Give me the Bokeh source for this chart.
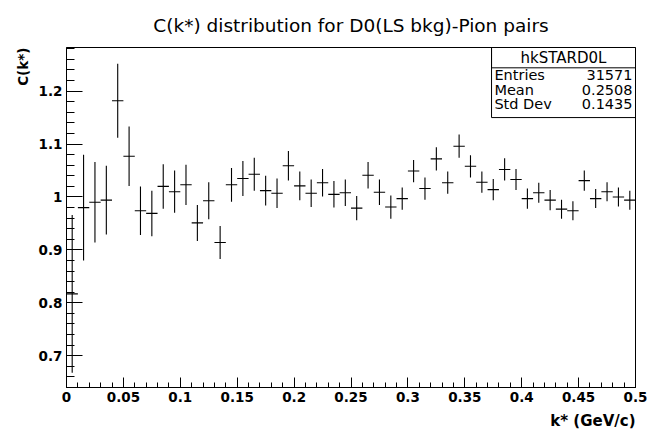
import numpy as np
from bokeh.plotting import figure
from bokeh.models import (Range1d, FixedTicker, CustomJSTickFormatter, Title,
                          BoxAnnotation, ColumnDataSource)
from bokeh.core.properties import value
from bokeh.embed import file_html
from bokeh.resources import INLINE

# Histogram hkSTARD0L: 50 bins of width 0.01 in k* from 0 to 0.5
bin_width = 0.01
bin_low = [round(i * bin_width, 3) for i in range(50)]
c_vals = [0.817, 0.980, 0.990, 0.994, 1.182, 1.077, 0.974, 0.969, 1.020, 1.010,
          1.023, 0.951, 0.993, 0.914, 1.023, 1.035, 1.043, 1.012, 1.007, 1.059,
          1.021, 1.007, 1.027, 1.005, 1.008, 0.979, 1.041, 1.009, 0.981, 0.997,
          1.049, 1.016, 1.072, 1.027, 1.096, 1.058, 1.028, 1.014, 1.052, 1.033,
          0.997, 1.008, 0.994, 0.977, 0.974, 1.031, 0.997, 1.010, 1.000, 0.994]
c_errs = [0.149, 0.100, 0.076, 0.065, 0.070, 0.056, 0.046, 0.043, 0.042, 0.040,
          0.038, 0.034, 0.035, 0.031, 0.032, 0.033, 0.031, 0.028, 0.028, 0.028,
          0.027, 0.026, 0.026, 0.025, 0.025, 0.023, 0.025, 0.024, 0.022, 0.021,
          0.021, 0.021, 0.022, 0.021, 0.022, 0.021, 0.020, 0.020, 0.021, 0.020,
          0.019, 0.019, 0.019, 0.018, 0.018, 0.019, 0.018, 0.018, 0.018, 0.018]

x_major = [0.0, 0.05, 0.1, 0.15, 0.2, 0.25, 0.3, 0.35, 0.4, 0.45, 0.5]
x_minor = [round(i * 0.01, 3) for i in range(51)]
y_major = [0.7, 0.8, 0.9, 1.0, 1.1, 1.2]
y_minor = [round(0.64 + i * 0.02, 3) for i in range(33)]

stat_title = "hkSTARD0L"
stat_names = ["Entries", "Mean", "Std Dev"]
stat_values = ["31571", "0.2508", "0.1435"]

X0, X1 = 0.0, 0.5
Y0, Y1 = 0.64, 1.2825

FONT = "DejaVu Sans"

p = figure(width=647, height=434, output_backend="svg", toolbar_location=None,
           x_range=Range1d(X0, X1), y_range=Range1d(Y0, Y1),
           min_border_left=66, min_border_right=12, min_border_top=47,
           min_border_bottom=41, title=None)
p.background_fill_color = "white"
p.border_fill_color = "white"
p.outline_line_color = "black"
p.outline_line_width = 1
p.xgrid.visible = False
p.ygrid.visible = False

fmt = CustomJSTickFormatter(code="return String(parseFloat(tick.toFixed(3)));")

xa = p.xaxis[0]
xa.ticker = FixedTicker(ticks=x_major, minor_ticks=x_minor)
xa.formatter = fmt
xa.major_tick_in = 10
xa.major_tick_out = 0
xa.minor_tick_in = 5
xa.minor_tick_out = 0
xa.axis_line_color = "black"
xa.major_tick_line_color = "black"
xa.minor_tick_line_color = "black"
xa.major_label_text_font = FONT
xa.major_label_text_font_style = "bold"
xa.major_label_text_font_size = "13.5px"
xa.major_label_text_color = "black"
xa.major_label_standoff = 4

ya = p.yaxis[0]
ya.ticker = FixedTicker(ticks=y_major, minor_ticks=y_minor)
ya.formatter = fmt
ya.major_tick_in = 16
ya.major_tick_out = 0
ya.minor_tick_in = 8
ya.minor_tick_out = 0
ya.axis_line_color = "black"
ya.major_tick_line_color = "black"
ya.minor_tick_line_color = "black"
ya.major_label_text_font = FONT
ya.major_label_text_font_style = "bold"
ya.major_label_text_font_size = "13.5px"
ya.major_label_text_color = "black"
ya.major_label_standoff = 4

# error-bar crosses: vertical = statistical error, horizontal = bin width
centers = [b + bin_width / 2 for b in bin_low]
src = ColumnDataSource(dict(
    x=centers,
    y=c_vals,
    lo=[v - e for v, e in zip(c_vals, c_errs)],
    hi=[v + e for v, e in zip(c_vals, c_errs)],
    xl=bin_low,
    xr=[b + bin_width for b in bin_low],
))
p.segment(x0="x", y0="lo", x1="x", y1="hi", source=src, line_color="black", line_width=1.1)
p.segment(x0="xl", y0="y", x1="xr", y1="y", source=src, line_color="black", line_width=1.1)

# statistics box in the upper right corner
box_left, box_bottom, box_sep = 0.3735, 1.1501, 1.2441
p.add_layout(BoxAnnotation(left=box_left, right=X1, bottom=box_bottom, top=Y1,
                           fill_alpha=0.0, line_color="black", line_alpha=1.0,
                           line_width=1))
p.add_layout(BoxAnnotation(left=box_left, right=X1, bottom=box_sep, top=Y1,
                           fill_alpha=0.0, line_color="black", line_alpha=1.0,
                           line_width=1))

row_y = [1.2296, 1.2026, 1.1757]
head_src = ColumnDataSource(dict(x=[(box_left + X1) / 2], y=[1.263], t=[stat_title]))
p.text(x="x", y="y", text="t", text_align="center", text_baseline="middle",
       text_font=value(FONT), text_font_size="15px", text_color="black",
       source=head_src)
stat_src = ColumnDataSource(dict(
    x=[0.376] * 3 + [0.4974] * 3,
    y=row_y + row_y,
    t=stat_names + stat_values,
    a=["left"] * 3 + ["right"] * 3,
))
p.text(x="x", y="y", text="t", text_align="a", text_baseline="middle",
       text_font=value(FONT), text_font_size="14.5px", text_color="black",
       source=stat_src)

# histogram title and axis titles
p.add_layout(Title(text="C(k*) distribution for D0(LS bkg)-Pion pairs",
                   align="center", offset=-8, standoff=23, text_font=FONT,
                   text_font_size="18.5px", text_font_style="normal",
                   text_color="black"), "above")
p.add_layout(Title(text="k* (GeV/c)", align="right", text_font=FONT,
                   text_font_style="bold", text_font_size="15px",
                   text_color="black"), "below")
p.add_layout(Title(text="C(k*)", align="right", text_font=FONT,
                   text_font_style="bold", text_font_size="13.5px",
                   text_color="black"), "left")

open("out.html", "w").write(file_html(p, INLINE))
